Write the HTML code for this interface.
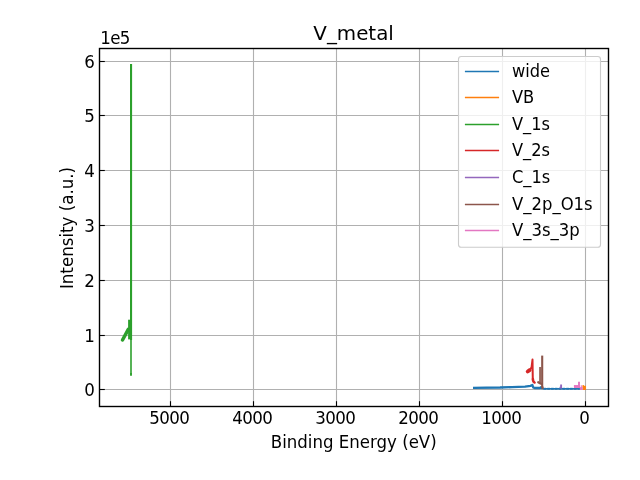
<!DOCTYPE html>
<html><head><meta charset="utf-8"><title>V_metal</title>
<style>
html,body{margin:0;padding:0;background:#fff;}
svg{display:block;}
text{font-family:"DejaVu Sans","Liberation Sans",sans-serif;fill:#000;}
.tk{font-size:16.67px;letter-spacing:-0.6px;}
.lb{font-size:16.67px;}
.lg{font-size:16.67px;}
.grid line{stroke:#b0b0b0;stroke-width:1.11;}
.ticks line{stroke:#000;stroke-width:1.11;}
.data path{fill:none;stroke-linejoin:round;}
</style></head><body>
<svg width="640" height="480" viewBox="0 0 640 480">
<rect width="640" height="480" fill="#fff"/>
<g class="grid">
<line x1="170.5" y1="48.5" x2="170.5" y2="406.5"/>
<line x1="253.5" y1="48.5" x2="253.5" y2="406.5"/>
<line x1="336.5" y1="48.5" x2="336.5" y2="406.5"/>
<line x1="419.5" y1="48.5" x2="419.5" y2="406.5"/>
<line x1="502.5" y1="48.5" x2="502.5" y2="406.5"/>
<line x1="585.5" y1="48.5" x2="585.5" y2="406.5"/>
<line x1="99.5" y1="389.5" x2="608.5" y2="389.5"/>
<line x1="99.5" y1="335.5" x2="608.5" y2="335.5"/>
<line x1="99.5" y1="280.5" x2="608.5" y2="280.5"/>
<line x1="99.5" y1="225.5" x2="608.5" y2="225.5"/>
<line x1="99.5" y1="170.5" x2="608.5" y2="170.5"/>
<line x1="99.5" y1="115.5" x2="608.5" y2="115.5"/>
<line x1="99.5" y1="61.5" x2="608.5" y2="61.5"/>
</g>
<g class="data">
<path stroke="#1f77b4" stroke-width="2.3" d="M473,387.8 L500,387.5 L512,387.1 L525,386.7 L530.5,385.9 L532.4,385.0 L533.2,387.4 L534.5,388.0 L540,388.0 L541,387.3 L542.5,388.6"/>
<path stroke="#1f77b4" stroke-width="1.6" d="M542.5,388.8 L579.9,388.8"/>
<path stroke="#1f77b4" stroke-width="2.1" stroke-opacity="0.7" stroke-dasharray="2.6 1.2" d="M543.5,388.9 L579.9,388.9"/>
<path fill="#ff7f0e" stroke="none" style="fill:#ff7f0e" d="M582.4,385.3 L583.7,385.1 L584.3,385.9 L585.2,385.6 L585.9,386.2 L585.9,389.9 L583.0,389.9 L582.4,387.5 Z"/>
<path stroke="#2ca02c" stroke-width="3.5" stroke-linecap="round" d="M122.5,340.0 L128.3,329.4"/>
<path stroke="#2ca02c" stroke-width="2.1" d="M129.15,319.7 L129.15,339.4"/>
<path stroke="#2ca02c" stroke-width="2.1" d="M131.05,63.9 L131.05,340"/>
<path stroke="#2ca02c" stroke-width="1.6" d="M131.0,340 L131.0,373.5"/>
<path stroke="#2ca02c" stroke-width="1.9" d="M131.0,373 L131.0,375.8"/>
<path stroke="#d62728" stroke-width="3.9" stroke-linecap="round" d="M527.7,371.5 L529.6,370.2"/>
<path stroke="#d62728" stroke-width="2.0" stroke-linecap="round" d="M529.5,370.2 L531.6,367.2 L532.5,359.6 L532.8,380.6"/>
<path stroke="#d62728" stroke-width="2.4" stroke-linecap="round" d="M532.9,379 L533.4,381.5 L534.6,382.6"/>
<path stroke="#9467bd" stroke-width="1.9" d="M561.1,384.5 L561.1,388.6 M559.6,387.6 L562,387.6"/>
<path stroke="#8c564b" stroke-width="2.1" d="M542.2,355.6 L542.2,387.6"/>
<path stroke="#8c564b" stroke-opacity="0.9" stroke-width="2.2" d="M540.2,367 L540.2,383.5"/>
<path stroke="#8c564b" stroke-width="2.2" stroke-linecap="round" d="M538.2,382.2 L540.5,383.6 L541.5,384"/>
<path stroke="#8c564b" stroke-width="2.2" stroke-linecap="round" d="M542.3,387 L542.7,388"/>
<path stroke="#e377c2" stroke-width="2.9" d="M573.9,386.5 L580,386.5"/>
<path stroke="#e377c2" stroke-width="1.9" d="M579,381.8 L579,388"/>
<path stroke="#e377c2" stroke-width="2.7" d="M579.9,388.55 L582.8,388.55"/>
<path stroke="#e377c2" stroke-width="1.1" d="M581.3,385.2 L581.3,388"/>
</g>

<g class="ticks">
<line x1="170.5" y1="406.5" x2="170.5" y2="401.2"/>
<line x1="253.5" y1="406.5" x2="253.5" y2="401.2"/>
<line x1="336.5" y1="406.5" x2="336.5" y2="401.2"/>
<line x1="419.5" y1="406.5" x2="419.5" y2="401.2"/>
<line x1="502.5" y1="406.5" x2="502.5" y2="401.2"/>
<line x1="585.5" y1="406.5" x2="585.5" y2="401.2"/>
<line x1="99.5" y1="389.5" x2="104.8" y2="389.5"/>
<line x1="99.5" y1="335.5" x2="104.8" y2="335.5"/>
<line x1="99.5" y1="280.5" x2="104.8" y2="280.5"/>
<line x1="99.5" y1="225.5" x2="104.8" y2="225.5"/>
<line x1="99.5" y1="170.5" x2="104.8" y2="170.5"/>
<line x1="99.5" y1="115.5" x2="104.8" y2="115.5"/>
<line x1="99.5" y1="61.5" x2="104.8" y2="61.5"/>
</g>
<rect x="99.5" y="48.5" width="509.0" height="358.0" fill="none" stroke="#000" stroke-width="1.39"/>
<text class="tk" transform="translate(149.2,423.6) scale(1,1.04)" text-anchor="start">5000</text>
<text class="tk" transform="translate(232.2,423.6) scale(1,1.04)" text-anchor="start">4000</text>
<text class="tk" transform="translate(315.2,423.6) scale(1,1.04)" text-anchor="start">3000</text>
<text class="tk" transform="translate(398.2,423.6) scale(1,1.04)" text-anchor="start">2000</text>
<text class="tk" transform="translate(481.2,423.6) scale(1,1.04)" text-anchor="start">1000</text>
<text class="tk" transform="translate(579.2,423.6) scale(1,1.04)" text-anchor="start">0</text>
<text class="tk" transform="translate(84.2,395.8) scale(1,1.04)" text-anchor="start">0</text>
<text class="tk" transform="translate(84.2,341.8) scale(1,1.04)" text-anchor="start">1</text>
<text class="tk" transform="translate(84.2,286.8) scale(1,1.04)" text-anchor="start">2</text>
<text class="tk" transform="translate(84.2,231.8) scale(1,1.04)" text-anchor="start">3</text>
<text class="tk" transform="translate(84.2,176.8) scale(1,1.04)" text-anchor="start">4</text>
<text class="tk" transform="translate(84.2,121.8) scale(1,1.04)" text-anchor="start">5</text>
<text class="tk" transform="translate(84.2,67.8) scale(1,1.04)" text-anchor="start">6</text>
<text class="tk" transform="translate(100.2,43.8) scale(1,1.04)" text-anchor="start">1e5</text>
<text transform="translate(313.3,39.7) scale(1.022,1.043)" style="font-size:19.44px">V_metal</text>
<text class="lb" transform="translate(270.8,447.6) scale(0.997,1.03)">Binding Energy (eV)</text>
<text class="lb" transform="translate(72.9,289.1) rotate(-90) scale(1,1.03)">Intensity (a.u.)</text>
<g>
<rect x="458.5" y="56.5" width="142" height="190.7" rx="2.8" ry="2.8" fill="#fff" fill-opacity="0.8" stroke="#ccc" stroke-width="1.11"/>
<g stroke-width="1.39" fill="none">
<line x1="464.9" y1="71.5" x2="499.1" y2="71.5" stroke="#1f77b4"/>
<line x1="464.9" y1="97.5" x2="499.1" y2="97.5" stroke="#ff7f0e"/>
<line x1="464.9" y1="124.5" x2="499.1" y2="124.5" stroke="#2ca02c"/>
<line x1="464.9" y1="150.5" x2="499.1" y2="150.5" stroke="#d62728"/>
<line x1="464.9" y1="177.5" x2="499.1" y2="177.5" stroke="#9467bd"/>
<line x1="464.9" y1="204.5" x2="499.1" y2="204.5" stroke="#8c564b"/>
<line x1="464.9" y1="230.5" x2="499.1" y2="230.5" stroke="#e377c2"/>
</g>
<text class="lg" transform="translate(512,76.9) scale(0.975,1.03)">wide</text>
<text class="lg" transform="translate(512,102.6) scale(0.975,1.03)">VB</text>
<text class="lg" transform="translate(512,129.6) scale(0.975,1.03)">V_1s</text>
<text class="lg" transform="translate(512,156.3) scale(0.975,1.03)">V_2s</text>
<text class="lg" transform="translate(512,183.1) scale(0.975,1.03)">C_1s</text>
<text class="lg" transform="translate(512,209.9) scale(0.988,1.03)">V_2p_O1s</text>
<text class="lg" transform="translate(512,235.6) scale(0.99,1.03)">V_3s_3p</text>
</g>
</svg>
</body></html>
